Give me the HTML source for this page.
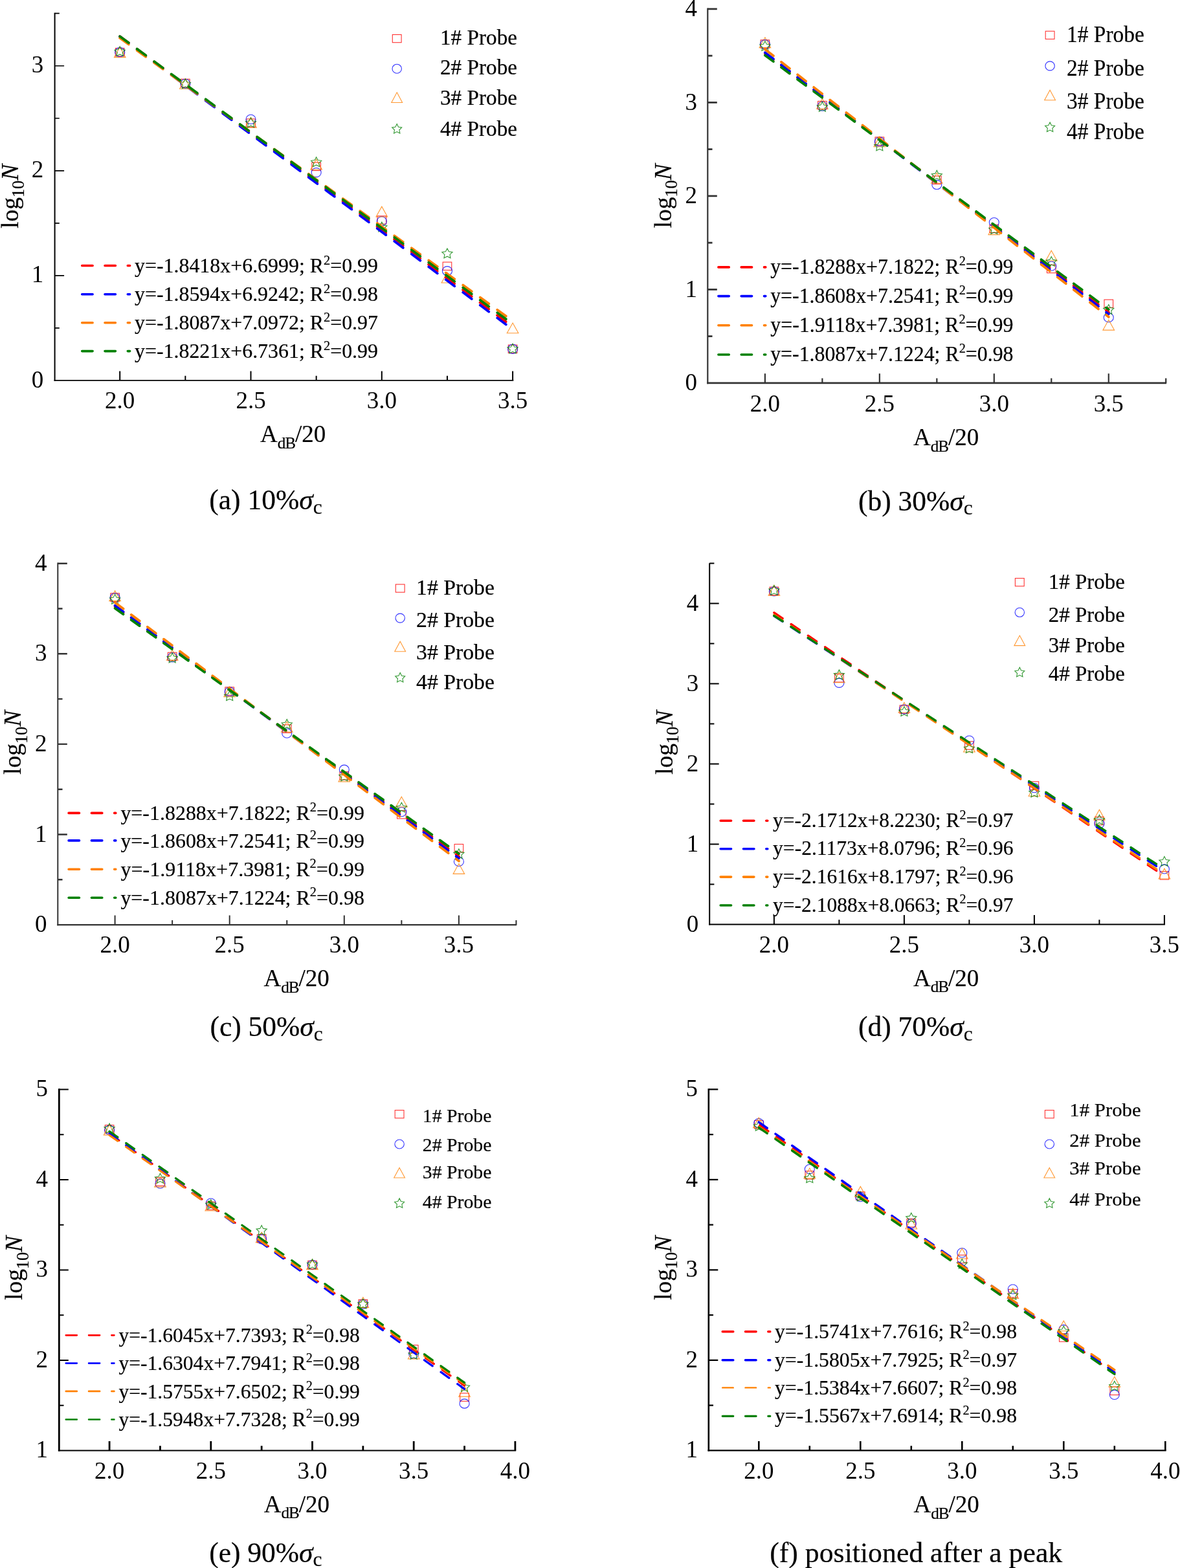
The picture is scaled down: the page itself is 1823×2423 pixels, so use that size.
<!DOCTYPE html>
<html lang="en"><head><meta charset="utf-8"><title>Amplitude distribution fits</title>
<style>html,body{margin:0;padding:0;background:#fff}body{width:1823px;height:2423px;overflow:hidden}svg{display:block}text{font-family:'Liberation Serif',serif;fill:#000;stroke:#000;stroke-width:0.2px}.t text{stroke:none}</style></head><body>
<svg width="1823" height="2423" viewBox="0 0 1823 2423">
<rect width="1823" height="2423" fill="#fff"/>
<g id="panel-a">
<g fill="none" stroke-width="1.1" stroke-opacity="0.8">
<rect x="178.4" y="74.48" width="13.6" height="12.4" stroke="#ff0000"/>
<rect x="279.55" y="122.29" width="13.6" height="12.4" stroke="#ff0000"/>
<rect x="380.7" y="183.87" width="13.6" height="12.4" stroke="#ff0000"/>
<rect x="481.85" y="251.12" width="13.6" height="12.4" stroke="#ff0000"/>
<rect x="583" y="333.76" width="13.6" height="12.4" stroke="#ff0000"/>
<rect x="684.15" y="405.07" width="13.6" height="12.4" stroke="#ff0000"/>
<rect x="785.3" y="533.08" width="13.6" height="12.4" stroke="#ff0000"/>
<ellipse cx="185.2" cy="80.68" rx="7.5" ry="7.1" stroke="#0000ff"/>
<ellipse cx="286.35" cy="129.3" rx="7.5" ry="7.1" stroke="#0000ff"/>
<ellipse cx="387.5" cy="184.4" rx="7.5" ry="7.1" stroke="#0000ff"/>
<ellipse cx="488.65" cy="266.55" rx="7.5" ry="7.1" stroke="#0000ff"/>
<ellipse cx="589.8" cy="341.91" rx="7.5" ry="7.1" stroke="#0000ff"/>
<ellipse cx="690.95" cy="418.72" rx="7.5" ry="7.1" stroke="#0000ff"/>
<ellipse cx="792.1" cy="539.28" rx="7.5" ry="7.1" stroke="#0000ff"/>
<path d="M185.2,72.82 L194,88.62 H176.4 Z" stroke="#ff8000"/>
<path d="M286.35,121.44 L295.15,137.24 H277.55 Z" stroke="#ff8000"/>
<path d="M387.5,181.4 L396.3,197.2 H378.7 Z" stroke="#ff8000"/>
<path d="M488.65,246.22 L497.45,262.02 H479.85 Z" stroke="#ff8000"/>
<path d="M589.8,319.14 L598.6,334.94 H581 Z" stroke="#ff8000"/>
<path d="M690.95,421.23 L699.75,437.03 H682.15 Z" stroke="#ff8000"/>
<path d="M792.1,499.02 L800.9,514.82 H783.3 Z" stroke="#ff8000"/>
<path d="M185.2,71.67 L187.7,76.56 L193.28,77.34 L189.24,81.14 L190.2,86.51 L185.2,83.97 L180.2,86.51 L181.16,81.14 L177.12,77.34 L182.7,76.56 Z" stroke="#008000"/>
<path d="M286.35,121.91 L288.85,126.79 L294.43,127.57 L290.39,131.38 L291.35,136.74 L286.35,134.21 L281.35,136.74 L282.31,131.38 L278.27,127.57 L283.85,126.79 Z" stroke="#008000"/>
<path d="M387.5,181.87 L390,186.75 L395.58,187.53 L391.54,191.33 L392.5,196.7 L387.5,194.17 L382.5,196.7 L383.46,191.33 L379.42,187.53 L385,186.75 Z" stroke="#008000"/>
<path d="M488.65,242.64 L491.15,247.52 L496.73,248.3 L492.69,252.1 L493.65,257.47 L488.65,254.94 L483.65,257.47 L484.61,252.1 L480.57,248.3 L486.15,247.52 Z" stroke="#008000"/>
<path d="M589.8,343.11 L592.3,347.99 L597.88,348.77 L593.84,352.57 L594.8,357.94 L589.8,355.41 L584.8,357.94 L585.76,352.57 L581.72,348.77 L587.3,347.99 Z" stroke="#008000"/>
<path d="M690.95,383.94 L693.45,388.83 L699.03,389.61 L694.99,393.41 L695.95,398.78 L690.95,396.24 L685.95,398.78 L686.91,393.41 L682.87,389.61 L688.45,388.83 Z" stroke="#008000"/>
<path d="M792.1,531.08 L794.6,535.97 L800.18,536.75 L796.14,540.55 L797.1,545.92 L792.1,543.38 L787.1,545.92 L788.06,540.55 L784.02,536.75 L789.6,535.97 Z" stroke="#008000"/>
</g>
<g fill="none" stroke-width="3.8" stroke-linecap="round">
<line x1="185.2" y1="56.21" x2="792.1" y2="504.93" stroke="#ff0000" stroke-dasharray="16.84 16.11"/>
<line x1="185.2" y1="56.54" x2="792.1" y2="509.14" stroke="#0000ff" stroke-dasharray="16.91 16.15"/>
<line x1="185.2" y1="58.81" x2="792.1" y2="495.86" stroke="#ff8000" stroke-dasharray="16.66 16"/>
<line x1="185.2" y1="56.21" x2="792.1" y2="500.7" stroke="#008000" stroke-dasharray="16.78 16.07"/>
</g>
<path d="M84.6,19.75 V588.75" fill="none" stroke="#000" stroke-width="2.0"/>
<path d="M83.6,587.9 H793.3" fill="none" stroke="#000" stroke-width="1.7"/>
<path d="M185.2,587.9 v-14.5 M387.5,587.9 v-14.5 M589.8,587.9 v-14.5 M792.1,587.9 v-14.5 M286.35,587.9 v-7.2 M488.65,587.9 v-7.2 M690.95,587.9 v-7.2" fill="none" stroke="#000" stroke-width="2.0"/>
<path d="M84.6,425.85 h14.5 M84.6,263.8 h14.5 M84.6,101.75 h14.5 M84.6,506.88 h7.2 M84.6,344.82 h7.2 M84.6,182.77 h7.2 M84.6,20.72 h7.2" fill="none" stroke="#000" stroke-width="1.7"/>
<g class="t">
<text x="185.2" y="631.2" font-size="37" text-anchor="middle">2.0</text>
<text x="387.5" y="631.2" font-size="37" text-anchor="middle">2.5</text>
<text x="589.8" y="631.2" font-size="37" text-anchor="middle">3.0</text>
<text x="792.1" y="631.2" font-size="37" text-anchor="middle">3.5</text>
<text x="67.2" y="598.5" font-size="37" text-anchor="end">0</text>
<text x="67.2" y="436.45" font-size="37" text-anchor="end">1</text>
<text x="67.2" y="274.4" font-size="37" text-anchor="end">2</text>
<text x="67.2" y="112.35" font-size="37" text-anchor="end">3</text>
</g>
<text x="402" y="683" font-size="37">A<tspan font-size="25.16" dy="9.8" dx="0" letter-spacing="-1">dB</tspan><tspan dy="-9.8" dx="0">/20</tspan></text>
<text transform="translate(27.6 353) rotate(-90)" font-size="37.5">log<tspan font-size="26.25" dy="9.75">10</tspan><tspan dy="-9.75" font-style="italic">N</tspan></text>
<g fill="none" stroke-width="1.1" stroke-opacity="0.8">
<rect x="606.3" y="53.5" width="13.8" height="12.2" stroke="#ff0000"/>
<ellipse cx="613.2" cy="106.2" rx="7.2" ry="7" stroke="#0000ff"/>
<path d="M613.2,142.84 L621.6,158.44 H604.8 Z" stroke="#ff8000"/>
<path d="M613.2,191.4 L615.52,196.22 L620.71,197 L616.96,200.75 L617.84,206.05 L613.2,203.55 L608.56,206.05 L609.44,200.75 L605.69,197 L610.88,196.22 Z" stroke="#008000"/>
</g>
<text x="680" y="69.2" font-size="33" textLength="119" lengthAdjust="spacingAndGlyphs">1# Probe</text>
<text x="680" y="115.1" font-size="33" textLength="119" lengthAdjust="spacingAndGlyphs">2# Probe</text>
<text x="680" y="162" font-size="33" textLength="119" lengthAdjust="spacingAndGlyphs">3# Probe</text>
<text x="680" y="210.3" font-size="33" textLength="119" lengthAdjust="spacingAndGlyphs">4# Probe</text>
<g fill="none" stroke-width="3.6" stroke-dasharray="16.4 18.9" stroke-linecap="round">
<line x1="126.7" y1="410.5" x2="200.6" y2="410.5" stroke="#ff0000"/>
<line x1="126.7" y1="454.7" x2="200.6" y2="454.7" stroke="#0000ff"/>
<line x1="126.7" y1="498.7" x2="200.6" y2="498.7" stroke="#ff8000"/>
<line x1="126.7" y1="542.6" x2="200.6" y2="542.6" stroke="#008000"/>
</g>
<text x="208" y="421" font-size="32" textLength="376" lengthAdjust="spacingAndGlyphs">y=-1.8418x+6.6999; R<tspan font-size="20.48" dy="-12.48">2</tspan><tspan dy="12.48">=0.99</tspan></text>
<text x="208" y="465" font-size="32" textLength="376" lengthAdjust="spacingAndGlyphs">y=-1.8594x+6.9242; R<tspan font-size="20.48" dy="-12.48">2</tspan><tspan dy="12.48">=0.98</tspan></text>
<text x="208" y="509" font-size="32" textLength="376" lengthAdjust="spacingAndGlyphs">y=-1.8087x+7.0972; R<tspan font-size="20.48" dy="-12.48">2</tspan><tspan dy="12.48">=0.97</tspan></text>
<text x="208" y="553" font-size="32" textLength="376" lengthAdjust="spacingAndGlyphs">y=-1.8221x+6.7361; R<tspan font-size="20.48" dy="-12.48">2</tspan><tspan dy="12.48">=0.99</tspan></text>
<text x="323.3" y="787.2" font-size="43.5">(a) 10%<tspan font-style="italic">σ</tspan><tspan font-size="31.32" dy="6.31">c</tspan></text>
</g>
<g id="panel-b">
<g fill="none" stroke-width="1.1" stroke-opacity="0.8">
<rect x="1175.1" y="61.79" width="13.6" height="12.4" stroke="#ff0000"/>
<rect x="1263.58" y="156.43" width="13.6" height="12.4" stroke="#ff0000"/>
<rect x="1352.05" y="211.92" width="13.6" height="12.4" stroke="#ff0000"/>
<rect x="1440.53" y="272.03" width="13.6" height="12.4" stroke="#ff0000"/>
<rect x="1529" y="347.18" width="13.6" height="12.4" stroke="#ff0000"/>
<rect x="1617.48" y="409.31" width="13.6" height="12.4" stroke="#ff0000"/>
<rect x="1705.95" y="463.06" width="13.6" height="12.4" stroke="#ff0000"/>
<ellipse cx="1181.9" cy="68.71" rx="7.5" ry="7.1" stroke="#0000ff"/>
<ellipse cx="1270.38" cy="164.08" rx="7.5" ry="7.1" stroke="#0000ff"/>
<ellipse cx="1358.85" cy="218.99" rx="7.5" ry="7.1" stroke="#0000ff"/>
<ellipse cx="1447.33" cy="285.46" rx="7.5" ry="7.1" stroke="#0000ff"/>
<ellipse cx="1535.8" cy="343.55" rx="7.5" ry="7.1" stroke="#0000ff"/>
<ellipse cx="1624.28" cy="411.17" rx="7.5" ry="7.1" stroke="#0000ff"/>
<ellipse cx="1712.75" cy="490.65" rx="7.5" ry="7.1" stroke="#0000ff"/>
<path d="M1181.9,57.78 L1190.7,73.58 H1173.1 Z" stroke="#ff8000"/>
<path d="M1270.38,152.43 L1279.17,168.23 H1261.58 Z" stroke="#ff8000"/>
<path d="M1358.85,210.96 L1367.65,226.75 H1350.05 Z" stroke="#ff8000"/>
<path d="M1447.33,267.31 L1456.12,283.11 H1438.53 Z" stroke="#ff8000"/>
<path d="M1535.8,346.78 L1544.6,362.58 H1527 Z" stroke="#ff8000"/>
<path d="M1624.28,387.24 L1633.08,403.04 H1615.48 Z" stroke="#ff8000"/>
<path d="M1712.75,494.32 L1721.55,510.12 H1703.95 Z" stroke="#ff8000"/>
<path d="M1181.9,63.4 L1184.4,68.28 L1189.98,69.07 L1185.94,72.87 L1186.9,78.23 L1181.9,75.7 L1176.9,78.23 L1177.86,72.87 L1173.82,69.07 L1179.4,68.28 Z" stroke="#008000"/>
<path d="M1270.38,157.32 L1272.87,162.21 L1278.46,162.99 L1274.42,166.79 L1275.37,172.16 L1270.38,169.62 L1265.38,172.16 L1266.33,166.79 L1262.29,162.99 L1267.88,162.21 Z" stroke="#008000"/>
<path d="M1358.85,218.01 L1361.35,222.9 L1366.93,223.68 L1362.89,227.48 L1363.85,232.85 L1358.85,230.31 L1353.85,232.85 L1354.81,227.48 L1350.77,223.68 L1356.35,222.9 Z" stroke="#008000"/>
<path d="M1447.33,263.24 L1449.82,268.13 L1455.41,268.91 L1451.37,272.71 L1452.32,278.08 L1447.33,275.54 L1442.33,278.08 L1443.28,272.71 L1439.24,268.91 L1444.83,268.13 Z" stroke="#008000"/>
<path d="M1535.8,346.62 L1538.3,351.5 L1543.88,352.29 L1539.84,356.09 L1540.8,361.45 L1535.8,358.92 L1530.8,361.45 L1531.76,356.09 L1527.72,352.29 L1533.3,351.5 Z" stroke="#008000"/>
<path d="M1624.28,396.47 L1626.77,401.36 L1632.36,402.14 L1628.32,405.94 L1629.27,411.31 L1624.28,408.77 L1619.28,411.31 L1620.23,405.94 L1616.19,402.14 L1621.78,401.36 Z" stroke="#008000"/>
<path d="M1712.75,470.6 L1715.25,475.48 L1720.83,476.27 L1716.79,480.07 L1717.75,485.43 L1712.75,482.9 L1707.75,485.43 L1708.71,480.07 L1704.67,476.27 L1710.25,475.48 Z" stroke="#008000"/>
</g>
<g fill="none" stroke-width="3.8" stroke-linecap="round">
<line x1="1181.9" y1="82.44" x2="1712.75" y2="482.34" stroke="#ff0000" stroke-dasharray="16.23 15.19"/>
<line x1="1181.9" y1="81.14" x2="1712.75" y2="485.29" stroke="#0000ff" stroke-dasharray="16.31 15.24"/>
<line x1="1181.9" y1="76.22" x2="1712.75" y2="489.74" stroke="#ff8000" stroke-dasharray="16.48 15.34"/>
<line x1="1181.9" y1="85.47" x2="1712.75" y2="478.2" stroke="#008000" stroke-dasharray="16.1 15.12"/>
</g>
<path d="M1093.3,12.6 V593.2" fill="none" stroke="#333" stroke-width="2.2"/>
<path d="M1092.2,591.8 H1802.1" fill="none" stroke="#333" stroke-width="2.8"/>
<path d="M1181.9,591.8 v-14.5 M1358.85,591.8 v-14.5 M1535.8,591.8 v-14.5 M1712.75,591.8 v-14.5 M1270.38,591.8 v-7.2 M1447.33,591.8 v-7.2 M1624.28,591.8 v-7.2 M1801.22,591.8 v-7.2" fill="none" stroke="#333" stroke-width="2.2"/>
<path d="M1093.3,447.3 h14.5 M1093.3,302.8 h14.5 M1093.3,158.3 h14.5 M1093.3,13.8 h14.5 M1093.3,519.55 h7.2 M1093.3,375.05 h7.2 M1093.3,230.55 h7.2 M1093.3,86.05 h7.2" fill="none" stroke="#333" stroke-width="2.8"/>
<g class="t">
<text transform="translate(1181.9 636.3) scale(1 1.03)" font-size="37" text-anchor="middle">2.0</text>
<text transform="translate(1358.85 636.3) scale(1 1.03)" font-size="37" text-anchor="middle">2.5</text>
<text transform="translate(1535.8 636.3) scale(1 1.03)" font-size="37" text-anchor="middle">3.0</text>
<text transform="translate(1712.75 636.3) scale(1 1.03)" font-size="37" text-anchor="middle">3.5</text>
<text transform="translate(1077 603.2) scale(1 1.03)" font-size="37" text-anchor="end">0</text>
<text transform="translate(1077 458.7) scale(1 1.03)" font-size="37" text-anchor="end">1</text>
<text transform="translate(1077 314.2) scale(1 1.03)" font-size="37" text-anchor="end">2</text>
<text transform="translate(1077 169.7) scale(1 1.03)" font-size="37" text-anchor="end">3</text>
<text transform="translate(1077 25.2) scale(1 1.03)" font-size="37" text-anchor="end">4</text>
</g>
<text x="1411" y="688.4" font-size="37">A<tspan font-size="25.16" dy="9.8" dx="0" letter-spacing="-1">dB</tspan><tspan dy="-9.8" dx="0">/20</tspan></text>
<text transform="translate(1036.7 352.5) rotate(-90)" font-size="37.5">log<tspan font-size="26.25" dy="9.75">10</tspan><tspan dy="-9.75" font-style="italic">N</tspan></text>
<g fill="none" stroke-width="1.1" stroke-opacity="0.8">
<rect x="1615.2" y="48.2" width="13.8" height="12.2" stroke="#ff0000"/>
<ellipse cx="1622.1" cy="101.9" rx="7.2" ry="7" stroke="#0000ff"/>
<path d="M1622.1,139.14 L1630.5,154.74 H1613.7 Z" stroke="#ff8000"/>
<path d="M1622.1,188.9 L1624.42,193.72 L1629.61,194.5 L1625.86,198.25 L1626.74,203.55 L1622.1,201.05 L1617.46,203.55 L1618.34,198.25 L1614.59,194.5 L1619.78,193.72 Z" stroke="#008000"/>
</g>
<text x="1648" y="64.7" font-size="35" textLength="119.8" lengthAdjust="spacingAndGlyphs">1# Probe</text>
<text x="1648" y="117.4" font-size="35" textLength="119.8" lengthAdjust="spacingAndGlyphs">2# Probe</text>
<text x="1648" y="167.8" font-size="35" textLength="119.8" lengthAdjust="spacingAndGlyphs">3# Probe</text>
<text x="1648" y="215.4" font-size="35" textLength="119.8" lengthAdjust="spacingAndGlyphs">4# Probe</text>
<g fill="none" stroke-width="3.6" stroke-dasharray="16.4 18.9" stroke-linecap="round">
<line x1="1109.9" y1="412.9" x2="1182.8" y2="412.9" stroke="#ff0000"/>
<line x1="1109.9" y1="457.6" x2="1182.8" y2="457.6" stroke="#0000ff"/>
<line x1="1109.9" y1="502.8" x2="1182.8" y2="502.8" stroke="#ff8000"/>
<line x1="1109.9" y1="548" x2="1182.8" y2="548" stroke="#008000"/>
</g>
<text x="1190.2" y="423.3" font-size="33" textLength="375.3" lengthAdjust="spacingAndGlyphs">y=-1.8288x+7.1822; R<tspan font-size="21.12" dy="-12.87">2</tspan><tspan dy="12.87">=0.99</tspan></text>
<text x="1190.2" y="468" font-size="33" textLength="375.3" lengthAdjust="spacingAndGlyphs">y=-1.8608x+7.2541; R<tspan font-size="21.12" dy="-12.87">2</tspan><tspan dy="12.87">=0.99</tspan></text>
<text x="1190.2" y="512.9" font-size="33" textLength="375.3" lengthAdjust="spacingAndGlyphs">y=-1.9118x+7.3981; R<tspan font-size="21.12" dy="-12.87">2</tspan><tspan dy="12.87">=0.99</tspan></text>
<text x="1190.2" y="558.1" font-size="33" textLength="375.3" lengthAdjust="spacingAndGlyphs">y=-1.8087x+7.1224; R<tspan font-size="21.12" dy="-12.87">2</tspan><tspan dy="12.87">=0.98</tspan></text>
<text x="1326" y="788.6" font-size="43.5">(b) 30%<tspan font-style="italic">σ</tspan><tspan font-size="31.32" dy="6.31">c</tspan></text>
</g>
<g id="panel-c">
<g fill="none" stroke-width="1.1" stroke-opacity="0.8">
<rect x="170.8" y="916.85" width="13.6" height="12.4" stroke="#ff0000"/>
<rect x="259.35" y="1008.29" width="13.6" height="12.4" stroke="#ff0000"/>
<rect x="347.9" y="1061.89" width="13.6" height="12.4" stroke="#ff0000"/>
<rect x="436.45" y="1119.97" width="13.6" height="12.4" stroke="#ff0000"/>
<rect x="525" y="1192.56" width="13.6" height="12.4" stroke="#ff0000"/>
<rect x="613.55" y="1252.59" width="13.6" height="12.4" stroke="#ff0000"/>
<rect x="702.1" y="1304.52" width="13.6" height="12.4" stroke="#ff0000"/>
<ellipse cx="177.6" cy="923.75" rx="7.5" ry="7.1" stroke="#0000ff"/>
<ellipse cx="266.15" cy="1015.88" rx="7.5" ry="7.1" stroke="#0000ff"/>
<ellipse cx="354.7" cy="1068.93" rx="7.5" ry="7.1" stroke="#0000ff"/>
<ellipse cx="443.25" cy="1133.15" rx="7.5" ry="7.1" stroke="#0000ff"/>
<ellipse cx="531.8" cy="1189.27" rx="7.5" ry="7.1" stroke="#0000ff"/>
<ellipse cx="620.35" cy="1254.6" rx="7.5" ry="7.1" stroke="#0000ff"/>
<ellipse cx="708.9" cy="1331.38" rx="7.5" ry="7.1" stroke="#0000ff"/>
<path d="M177.6,912.87 L186.4,928.67 H168.8 Z" stroke="#ff8000"/>
<path d="M266.15,1004.31 L274.95,1020.11 H257.35 Z" stroke="#ff8000"/>
<path d="M354.7,1060.85 L363.5,1076.65 H345.9 Z" stroke="#ff8000"/>
<path d="M443.25,1115.29 L452.05,1131.09 H434.45 Z" stroke="#ff8000"/>
<path d="M531.8,1192.07 L540.6,1207.87 H523 Z" stroke="#ff8000"/>
<path d="M620.35,1231.16 L629.15,1246.96 H611.55 Z" stroke="#ff8000"/>
<path d="M708.9,1334.6 L717.7,1350.4 H700.1 Z" stroke="#ff8000"/>
<path d="M177.6,918.34 L180.1,923.22 L185.68,924.01 L181.64,927.81 L182.6,933.17 L177.6,930.64 L172.6,933.17 L173.56,927.81 L169.52,924.01 L175.1,923.22 Z" stroke="#008000"/>
<path d="M266.15,1009.08 L268.65,1013.96 L274.23,1014.75 L270.19,1018.55 L271.15,1023.91 L266.15,1021.38 L261.15,1023.91 L262.11,1018.55 L258.07,1014.75 L263.65,1013.96 Z" stroke="#008000"/>
<path d="M354.7,1067.71 L357.2,1072.6 L362.78,1073.38 L358.74,1077.18 L359.7,1082.55 L354.7,1080.01 L349.7,1082.55 L350.66,1077.18 L346.62,1073.38 L352.2,1072.6 Z" stroke="#008000"/>
<path d="M443.25,1111.41 L445.75,1116.29 L451.33,1117.07 L447.29,1120.87 L448.25,1126.24 L443.25,1123.71 L438.25,1126.24 L439.21,1120.87 L435.17,1117.07 L440.75,1116.29 Z" stroke="#008000"/>
<path d="M531.8,1191.96 L534.3,1196.84 L539.88,1197.62 L535.84,1201.42 L536.8,1206.79 L531.8,1204.26 L526.8,1206.79 L527.76,1201.42 L523.72,1197.62 L529.3,1196.84 Z" stroke="#008000"/>
<path d="M620.35,1240.12 L622.85,1245 L628.43,1245.78 L624.39,1249.58 L625.35,1254.95 L620.35,1252.42 L615.35,1254.95 L616.31,1249.58 L612.27,1245.78 L617.85,1245 Z" stroke="#008000"/>
<path d="M708.9,1311.73 L711.4,1316.62 L716.98,1317.4 L712.94,1321.2 L713.9,1326.57 L708.9,1324.03 L703.9,1326.57 L704.86,1321.2 L700.82,1317.4 L706.4,1316.62 Z" stroke="#008000"/>
</g>
<g fill="none" stroke-width="3.8" stroke-linecap="round">
<line x1="177.6" y1="937.01" x2="708.9" y2="1323.35" stroke="#ff0000" stroke-dasharray="15.98 15.05"/>
<line x1="177.6" y1="935.75" x2="708.9" y2="1326.2" stroke="#0000ff" stroke-dasharray="16.06 15.09"/>
<line x1="177.6" y1="931.01" x2="708.9" y2="1330.5" stroke="#ff8000" stroke-dasharray="16.22 15.19"/>
<line x1="177.6" y1="939.94" x2="708.9" y2="1319.35" stroke="#008000" stroke-dasharray="15.86 14.98"/>
</g>
<path d="M89.3,869.5 V1430.3" fill="none" stroke="#333" stroke-width="2.0"/>
<path d="M88.3,1429.1 H798.2" fill="none" stroke="#333" stroke-width="2.4"/>
<path d="M177.6,1429.1 v-14.5 M354.7,1429.1 v-14.5 M531.8,1429.1 v-14.5 M708.9,1429.1 v-14.5 M266.15,1429.1 v-7.2 M443.25,1429.1 v-7.2 M620.35,1429.1 v-7.2 M797.45,1429.1 v-7.2" fill="none" stroke="#333" stroke-width="2.0"/>
<path d="M89.3,1289.5 h14.5 M89.3,1149.9 h14.5 M89.3,1010.3 h14.5 M89.3,870.7 h14.5 M89.3,1359.3 h7.2 M89.3,1219.7 h7.2 M89.3,1080.1 h7.2 M89.3,940.5 h7.2" fill="none" stroke="#333" stroke-width="2.4"/>
<g class="t">
<text x="177.6" y="1472.3" font-size="37" text-anchor="middle">2.0</text>
<text x="354.7" y="1472.3" font-size="37" text-anchor="middle">2.5</text>
<text x="531.8" y="1472.3" font-size="37" text-anchor="middle">3.0</text>
<text x="708.9" y="1472.3" font-size="37" text-anchor="middle">3.5</text>
<text x="72.5" y="1440.1" font-size="37" text-anchor="end">0</text>
<text x="72.5" y="1300.5" font-size="37" text-anchor="end">1</text>
<text x="72.5" y="1160.9" font-size="37" text-anchor="end">2</text>
<text x="72.5" y="1021.3" font-size="37" text-anchor="end">3</text>
<text x="72.5" y="881.7" font-size="37" text-anchor="end">4</text>
</g>
<text x="407.5" y="1523.7" font-size="37">A<tspan font-size="25.16" dy="9.8" dx="0" letter-spacing="-1">dB</tspan><tspan dy="-9.8" dx="0">/20</tspan></text>
<text transform="translate(32.3 1197) rotate(-90)" font-size="37.5">log<tspan font-size="26.25" dy="9.75">10</tspan><tspan dy="-9.75" font-style="italic">N</tspan></text>
<g fill="none" stroke-width="1.1" stroke-opacity="0.8">
<rect x="611.3" y="903" width="13.8" height="12.2" stroke="#ff0000"/>
<ellipse cx="618.2" cy="955.1" rx="7.2" ry="7" stroke="#0000ff"/>
<path d="M618.2,991.14 L626.6,1006.74 H609.8 Z" stroke="#ff8000"/>
<path d="M618.2,1039.4 L620.52,1044.22 L625.71,1045 L621.96,1048.75 L622.84,1054.05 L618.2,1051.55 L613.56,1054.05 L614.44,1048.75 L610.69,1045 L615.88,1044.22 Z" stroke="#008000"/>
</g>
<text x="643" y="918.9" font-size="34" textLength="121" lengthAdjust="spacingAndGlyphs">1# Probe</text>
<text x="643" y="969.4" font-size="34" textLength="121" lengthAdjust="spacingAndGlyphs">2# Probe</text>
<text x="643" y="1018.7" font-size="34" textLength="121" lengthAdjust="spacingAndGlyphs">3# Probe</text>
<text x="643" y="1064.7" font-size="34" textLength="121" lengthAdjust="spacingAndGlyphs">4# Probe</text>
<g fill="none" stroke-width="3.6" stroke-dasharray="16.4 18.9" stroke-linecap="round">
<line x1="106.1" y1="1256.4" x2="178.8" y2="1256.4" stroke="#ff0000"/>
<line x1="106.1" y1="1298.9" x2="178.8" y2="1298.9" stroke="#0000ff"/>
<line x1="106.1" y1="1343.3" x2="178.8" y2="1343.3" stroke="#ff8000"/>
<line x1="106.1" y1="1387.2" x2="178.8" y2="1387.2" stroke="#008000"/>
</g>
<text x="186.4" y="1266.6" font-size="32" textLength="376.5" lengthAdjust="spacingAndGlyphs">y=-1.8288x+7.1822; R<tspan font-size="20.48" dy="-12.48">2</tspan><tspan dy="12.48">=0.99</tspan></text>
<text x="186.4" y="1309.9" font-size="32" textLength="376.5" lengthAdjust="spacingAndGlyphs">y=-1.8608x+7.2541; R<tspan font-size="20.48" dy="-12.48">2</tspan><tspan dy="12.48">=0.99</tspan></text>
<text x="186.4" y="1353.7" font-size="32" textLength="376.5" lengthAdjust="spacingAndGlyphs">y=-1.9118x+7.3981; R<tspan font-size="20.48" dy="-12.48">2</tspan><tspan dy="12.48">=0.99</tspan></text>
<text x="186.4" y="1397.6" font-size="32" textLength="376.5" lengthAdjust="spacingAndGlyphs">y=-1.8087x+7.1224; R<tspan font-size="20.48" dy="-12.48">2</tspan><tspan dy="12.48">=0.98</tspan></text>
<text x="324.4" y="1601.2" font-size="43.5">(c) 50%<tspan font-style="italic">σ</tspan><tspan font-size="31.32" dy="6.31">c</tspan></text>
</g>
<g id="panel-d">
<g fill="none" stroke-width="1.1" stroke-opacity="0.8">
<rect x="1189.1" y="907.2" width="13.6" height="12.4" stroke="#ff0000"/>
<rect x="1289.6" y="1041.62" width="13.6" height="12.4" stroke="#ff0000"/>
<rect x="1390.1" y="1089.98" width="13.6" height="12.4" stroke="#ff0000"/>
<rect x="1490.6" y="1145.78" width="13.6" height="12.4" stroke="#ff0000"/>
<rect x="1591.1" y="1207.78" width="13.6" height="12.4" stroke="#ff0000"/>
<rect x="1691.6" y="1262.34" width="13.6" height="12.4" stroke="#ff0000"/>
<rect x="1792.1" y="1346.66" width="13.6" height="12.4" stroke="#ff0000"/>
<ellipse cx="1195.9" cy="913.9" rx="7.5" ry="7.1" stroke="#0000ff"/>
<ellipse cx="1296.4" cy="1055.26" rx="7.5" ry="7.1" stroke="#0000ff"/>
<ellipse cx="1396.9" cy="1096.18" rx="7.5" ry="7.1" stroke="#0000ff"/>
<ellipse cx="1497.4" cy="1144.17" rx="7.5" ry="7.1" stroke="#0000ff"/>
<ellipse cx="1597.9" cy="1217.7" rx="7.5" ry="7.1" stroke="#0000ff"/>
<ellipse cx="1698.4" cy="1272.88" rx="7.5" ry="7.1" stroke="#0000ff"/>
<ellipse cx="1798.9" cy="1342.94" rx="7.5" ry="7.1" stroke="#0000ff"/>
<path d="M1195.9,904.42 L1204.7,920.22 H1187.1 Z" stroke="#ff8000"/>
<path d="M1296.4,1038.96 L1305.2,1054.76 H1287.6 Z" stroke="#ff8000"/>
<path d="M1396.9,1085.46 L1405.7,1101.26 H1388.1 Z" stroke="#ff8000"/>
<path d="M1497.4,1146.22 L1506.2,1162.02 H1488.6 Z" stroke="#ff8000"/>
<path d="M1597.9,1214.42 L1606.7,1230.22 H1589.1 Z" stroke="#ff8000"/>
<path d="M1698.4,1251.12 L1707.2,1266.92 H1689.6 Z" stroke="#ff8000"/>
<path d="M1798.9,1342.14 L1807.7,1357.94 H1790.1 Z" stroke="#ff8000"/>
<path d="M1195.9,904.46 L1198.4,909.34 L1203.98,910.13 L1199.94,913.93 L1200.9,919.29 L1195.9,916.76 L1190.9,919.29 L1191.86,913.93 L1187.82,910.13 L1193.4,909.34 Z" stroke="#008000"/>
<path d="M1296.4,1035.03 L1298.9,1039.92 L1304.48,1040.7 L1300.44,1044.5 L1301.4,1049.87 L1296.4,1047.33 L1291.4,1049.87 L1292.36,1044.5 L1288.32,1040.7 L1293.9,1039.92 Z" stroke="#008000"/>
<path d="M1396.9,1091.7 L1399.4,1096.58 L1404.98,1097.37 L1400.94,1101.17 L1401.9,1106.53 L1396.9,1104 L1391.9,1106.53 L1392.86,1101.17 L1388.82,1097.37 L1394.4,1096.58 Z" stroke="#008000"/>
<path d="M1497.4,1148.74 L1499.9,1153.62 L1505.48,1154.41 L1501.44,1158.21 L1502.4,1163.57 L1497.4,1161.04 L1492.4,1163.57 L1493.36,1158.21 L1489.32,1154.41 L1494.9,1153.62 Z" stroke="#008000"/>
<path d="M1597.9,1216.94 L1600.4,1221.82 L1605.98,1222.61 L1601.94,1226.41 L1602.9,1231.77 L1597.9,1229.24 L1592.9,1231.77 L1593.86,1226.41 L1589.82,1222.61 L1595.4,1221.82 Z" stroke="#008000"/>
<path d="M1698.4,1259.1 L1700.9,1263.98 L1706.48,1264.77 L1702.44,1268.57 L1703.4,1273.93 L1698.4,1271.4 L1693.4,1273.93 L1694.36,1268.57 L1690.32,1264.77 L1695.9,1263.98 Z" stroke="#008000"/>
<path d="M1798.9,1323.58 L1801.4,1328.46 L1806.98,1329.25 L1802.94,1333.05 L1803.9,1338.41 L1798.9,1335.88 L1793.9,1338.41 L1794.86,1333.05 L1790.82,1329.25 L1796.4,1328.46 Z" stroke="#008000"/>
</g>
<g fill="none" stroke-width="3.4" stroke-linecap="round">
<line x1="1195.9" y1="946.76" x2="1798.9" y2="1353.73" stroke="#ff0000" stroke-dasharray="15.9 15.77"/>
<line x1="1195.9" y1="951.72" x2="1798.9" y2="1346.5" stroke="#0000ff" stroke-dasharray="15.72 15.65"/>
<line x1="1195.9" y1="950.23" x2="1798.9" y2="1351.25" stroke="#ff8000" stroke-dasharray="15.82 15.71"/>
<line x1="1195.9" y1="951.47" x2="1798.9" y2="1343.19" stroke="#008000" stroke-dasharray="15.68 15.62"/>
</g>
<path d="M1096.2,870.15 V1429.55" fill="none" stroke="#000" stroke-width="2.0"/>
<path d="M1095.2,1428.5 H1799.9" fill="none" stroke="#000" stroke-width="2.1"/>
<path d="M1195.9,1428.5 v-14.5 M1396.9,1428.5 v-14.5 M1597.9,1428.5 v-14.5 M1798.9,1428.5 v-14.5 M1296.4,1428.5 v-7.2 M1497.4,1428.5 v-7.2 M1698.4,1428.5 v-7.2" fill="none" stroke="#000" stroke-width="2.0"/>
<path d="M1096.2,1304.5 h14.5 M1096.2,1180.5 h14.5 M1096.2,1056.5 h14.5 M1096.2,932.5 h14.5 M1096.2,1366.5 h7.2 M1096.2,1242.5 h7.2 M1096.2,1118.5 h7.2 M1096.2,994.5 h7.2 M1096.2,870.5 h7.2" fill="none" stroke="#000" stroke-width="2.1"/>
<g class="t">
<text transform="translate(1195.9 1472.3) scale(1 1.03)" font-size="37" text-anchor="middle">2.0</text>
<text transform="translate(1396.9 1472.3) scale(1 1.03)" font-size="37" text-anchor="middle">2.5</text>
<text transform="translate(1597.9 1472.3) scale(1 1.03)" font-size="37" text-anchor="middle">3.0</text>
<text transform="translate(1798.9 1472.3) scale(1 1.03)" font-size="37" text-anchor="middle">3.5</text>
<text transform="translate(1079.3 1439.9) scale(1 1.03)" font-size="37" text-anchor="end">0</text>
<text transform="translate(1079.3 1315.9) scale(1 1.03)" font-size="37" text-anchor="end">1</text>
<text transform="translate(1079.3 1191.9) scale(1 1.03)" font-size="37" text-anchor="end">2</text>
<text transform="translate(1079.3 1067.9) scale(1 1.03)" font-size="37" text-anchor="end">3</text>
<text transform="translate(1079.3 943.9) scale(1 1.03)" font-size="37" text-anchor="end">4</text>
</g>
<text x="1411" y="1523.6" font-size="37">A<tspan font-size="25.16" dy="9.8" dx="0" letter-spacing="-1">dB</tspan><tspan dy="-9.8" dx="0">/20</tspan></text>
<text transform="translate(1038.6 1197) rotate(-90)" font-size="37.5">log<tspan font-size="26.25" dy="9.75">10</tspan><tspan dy="-9.75" font-style="italic">N</tspan></text>
<g fill="none" stroke-width="1.1" stroke-opacity="0.8">
<rect x="1568.4" y="893.6" width="13.8" height="12.2" stroke="#ff0000"/>
<ellipse cx="1575.3" cy="946.3" rx="7.2" ry="7" stroke="#0000ff"/>
<path d="M1575.3,982.04 L1583.7,997.64 H1566.9 Z" stroke="#ff8000"/>
<path d="M1575.3,1031.2 L1577.62,1036.02 L1582.81,1036.8 L1579.06,1040.55 L1579.94,1045.85 L1575.3,1043.35 L1570.66,1045.85 L1571.54,1040.55 L1567.79,1036.8 L1572.98,1036.02 Z" stroke="#008000"/>
</g>
<text x="1619.8" y="909.9" font-size="33" textLength="118" lengthAdjust="spacingAndGlyphs">1# Probe</text>
<text x="1619.8" y="960.6" font-size="33" textLength="118" lengthAdjust="spacingAndGlyphs">2# Probe</text>
<text x="1619.8" y="1007.7" font-size="33" textLength="118" lengthAdjust="spacingAndGlyphs">3# Probe</text>
<text x="1619.8" y="1052.4" font-size="33" textLength="118" lengthAdjust="spacingAndGlyphs">4# Probe</text>
<g fill="none" stroke-width="3.6" stroke-dasharray="16.4 18.9" stroke-linecap="round">
<line x1="1113.2" y1="1268.2" x2="1185.8" y2="1268.2" stroke="#ff0000"/>
<line x1="1113.2" y1="1311.8" x2="1185.8" y2="1311.8" stroke="#0000ff"/>
<line x1="1113.2" y1="1355.1" x2="1185.8" y2="1355.1" stroke="#ff8000"/>
<line x1="1113.2" y1="1399" x2="1185.8" y2="1399" stroke="#008000"/>
</g>
<text x="1194" y="1278.4" font-size="32" textLength="371.5" lengthAdjust="spacingAndGlyphs">y=-2.1712x+8.2230; R<tspan font-size="20.48" dy="-12.48">2</tspan><tspan dy="12.48">=0.97</tspan></text>
<text x="1194" y="1321.4" font-size="32" textLength="371.5" lengthAdjust="spacingAndGlyphs">y=-2.1173x+8.0796; R<tspan font-size="20.48" dy="-12.48">2</tspan><tspan dy="12.48">=0.96</tspan></text>
<text x="1194" y="1365.2" font-size="32" textLength="371.5" lengthAdjust="spacingAndGlyphs">y=-2.1616x+8.1797; R<tspan font-size="20.48" dy="-12.48">2</tspan><tspan dy="12.48">=0.96</tspan></text>
<text x="1194" y="1408.5" font-size="32" textLength="371.5" lengthAdjust="spacingAndGlyphs">y=-2.1088x+8.0663; R<tspan font-size="20.48" dy="-12.48">2</tspan><tspan dy="12.48">=0.97</tspan></text>
<text x="1326" y="1601.2" font-size="43.5">(d) 70%<tspan font-style="italic">σ</tspan><tspan font-size="31.32" dy="6.31">c</tspan></text>
</g>
<g id="panel-e">
<g fill="none" stroke-width="1.1" stroke-opacity="0.8">
<rect x="162.3" y="1738.58" width="13.6" height="12.4" stroke="#ff0000"/>
<rect x="240.65" y="1819.91" width="13.6" height="12.4" stroke="#ff0000"/>
<rect x="319" y="1857.15" width="13.6" height="12.4" stroke="#ff0000"/>
<rect x="397.35" y="1907.79" width="13.6" height="12.4" stroke="#ff0000"/>
<rect x="475.7" y="1948.39" width="13.6" height="12.4" stroke="#ff0000"/>
<rect x="554.05" y="2008.37" width="13.6" height="12.4" stroke="#ff0000"/>
<rect x="632.4" y="2078.54" width="13.6" height="12.4" stroke="#ff0000"/>
<rect x="710.75" y="2152.9" width="13.6" height="12.4" stroke="#ff0000"/>
<ellipse cx="169.1" cy="1746.18" rx="7.5" ry="7.1" stroke="#0000ff"/>
<ellipse cx="247.45" cy="1829.18" rx="7.5" ry="7.1" stroke="#0000ff"/>
<ellipse cx="325.8" cy="1859.17" rx="7.5" ry="7.1" stroke="#0000ff"/>
<ellipse cx="404.15" cy="1914.97" rx="7.5" ry="7.1" stroke="#0000ff"/>
<ellipse cx="482.5" cy="1954.59" rx="7.5" ry="7.1" stroke="#0000ff"/>
<ellipse cx="560.85" cy="2015.41" rx="7.5" ry="7.1" stroke="#0000ff"/>
<ellipse cx="639.2" cy="2092.14" rx="7.5" ry="7.1" stroke="#0000ff"/>
<ellipse cx="717.55" cy="2169" rx="7.5" ry="7.1" stroke="#0000ff"/>
<path d="M169.1,1738.09 L177.9,1753.89 H160.3 Z" stroke="#ff8000"/>
<path d="M247.45,1818.3 L256.25,1834.1 H238.65 Z" stroke="#ff8000"/>
<path d="M325.8,1855.27 L334.6,1871.07 H317 Z" stroke="#ff8000"/>
<path d="M404.15,1904.1 L412.95,1919.89 H395.35 Z" stroke="#ff8000"/>
<path d="M482.5,1945.95 L491.3,1961.75 H473.7 Z" stroke="#ff8000"/>
<path d="M560.85,2004.54 L569.65,2020.34 H552.05 Z" stroke="#ff8000"/>
<path d="M639.2,2084.05 L648,2099.85 H630.4 Z" stroke="#ff8000"/>
<path d="M717.55,2142.36 L726.35,2158.16 H708.75 Z" stroke="#ff8000"/>
<path d="M169.1,1735.88 L171.6,1740.77 L177.18,1741.55 L173.14,1745.35 L174.1,1750.72 L169.1,1748.18 L164.1,1750.72 L165.06,1745.35 L161.02,1741.55 L166.6,1740.77 Z" stroke="#008000"/>
<path d="M247.45,1813.31 L249.95,1818.19 L255.53,1818.97 L251.49,1822.77 L252.45,1828.14 L247.45,1825.61 L242.45,1828.14 L243.41,1822.77 L239.37,1818.97 L244.95,1818.19 Z" stroke="#008000"/>
<path d="M325.8,1853.76 L328.3,1858.64 L333.88,1859.43 L329.84,1863.23 L330.8,1868.59 L325.8,1866.06 L320.8,1868.59 L321.76,1863.23 L317.72,1859.43 L323.3,1858.64 Z" stroke="#008000"/>
<path d="M404.15,1893.52 L406.65,1898.4 L412.23,1899.18 L408.19,1902.98 L409.15,1908.35 L404.15,1905.82 L399.15,1908.35 L400.11,1902.98 L396.07,1899.18 L401.65,1898.4 Z" stroke="#008000"/>
<path d="M482.5,1945.83 L485,1950.71 L490.58,1951.5 L486.54,1955.3 L487.5,1960.66 L482.5,1958.13 L477.5,1960.66 L478.46,1955.3 L474.42,1951.5 L480,1950.71 Z" stroke="#008000"/>
<path d="M560.85,2007.21 L563.35,2012.09 L568.93,2012.88 L564.89,2016.68 L565.85,2022.04 L560.85,2019.51 L555.85,2022.04 L556.81,2016.68 L552.77,2012.88 L558.35,2012.09 Z" stroke="#008000"/>
<path d="M639.2,2085.33 L641.7,2090.21 L647.28,2091 L643.24,2094.8 L644.2,2100.16 L639.2,2097.63 L634.2,2100.16 L635.16,2094.8 L631.12,2091 L636.7,2090.21 Z" stroke="#008000"/>
<path d="M717.55,2135.55 L720.05,2140.43 L725.63,2141.22 L721.59,2145.02 L722.55,2150.38 L717.55,2147.85 L712.55,2150.38 L713.51,2145.02 L709.47,2141.22 L715.05,2140.43 Z" stroke="#008000"/>
</g>
<g fill="none" stroke-width="3.2" stroke-linecap="round">
<line x1="169.1" y1="1751.76" x2="717.55" y2="2141.13" stroke="#ff0000" stroke-dasharray="15.69 15.71" stroke-dashoffset="-2.5"/>
<line x1="169.1" y1="1751.27" x2="717.55" y2="2146.41" stroke="#0000ff" stroke-dasharray="15.78 15.77"/>
<line x1="169.1" y1="1754.2" x2="717.55" y2="2138.67" stroke="#ff8000" stroke-dasharray="15.61 15.66"/>
<line x1="169.1" y1="1748.2" x2="717.55" y2="2136.6" stroke="#008000" stroke-dasharray="15.67 15.7"/>
</g>
<path d="M91.3,1682.3 V2242.4" fill="none" stroke="#000" stroke-width="2.8"/>
<path d="M89.9,2241.4 H797.2" fill="none" stroke="#000" stroke-width="2.0"/>
<path d="M169.1,2241.4 v-14.5 M325.8,2241.4 v-14.5 M482.5,2241.4 v-14.5 M639.2,2241.4 v-14.5 M795.9,2241.4 v-14.5 M247.45,2241.4 v-7.2 M404.15,2241.4 v-7.2 M560.85,2241.4 v-7.2 M717.55,2241.4 v-7.2" fill="none" stroke="#000" stroke-width="2.8"/>
<path d="M91.3,2101.9 h14.5 M91.3,1962.4 h14.5 M91.3,1822.9 h14.5 M91.3,1683.4 h14.5 M91.3,2171.65 h7.2 M91.3,2032.15 h7.2 M91.3,1892.65 h7.2 M91.3,1753.15 h7.2" fill="none" stroke="#000" stroke-width="2.0"/>
<g class="t">
<text transform="translate(169.1 2284.9) scale(1 1.05)" font-size="37" text-anchor="middle">2.0</text>
<text transform="translate(325.8 2284.9) scale(1 1.05)" font-size="37" text-anchor="middle">2.5</text>
<text transform="translate(482.5 2284.9) scale(1 1.05)" font-size="37" text-anchor="middle">3.0</text>
<text transform="translate(639.2 2284.9) scale(1 1.05)" font-size="37" text-anchor="middle">3.5</text>
<text transform="translate(795.9 2284.9) scale(1 1.05)" font-size="37" text-anchor="middle">4.0</text>
<text transform="translate(74 2252.4) scale(1 1.05)" font-size="37" text-anchor="end">1</text>
<text transform="translate(74 2112.9) scale(1 1.05)" font-size="37" text-anchor="end">2</text>
<text transform="translate(74 1973.4) scale(1 1.05)" font-size="37" text-anchor="end">3</text>
<text transform="translate(74 1833.9) scale(1 1.05)" font-size="37" text-anchor="end">4</text>
<text transform="translate(74 1694.4) scale(1 1.05)" font-size="37" text-anchor="end">5</text>
</g>
<text x="407.7" y="2336.6" font-size="37">A<tspan font-size="25.16" dy="9.8" dx="0" letter-spacing="-1">dB</tspan><tspan dy="-9.8" dx="0">/20</tspan></text>
<text transform="translate(34.3 2009) rotate(-90)" font-size="37.5">log<tspan font-size="26.25" dy="9.75">10</tspan><tspan dy="-9.75" font-style="italic">N</tspan></text>
<g fill="none" stroke-width="1.1" stroke-opacity="0.8">
<rect x="610.2" y="1715.6" width="13.8" height="12.2" stroke="#ff0000"/>
<ellipse cx="617.1" cy="1768" rx="7.2" ry="7" stroke="#0000ff"/>
<path d="M617.1,1804.44 L625.5,1820.04 H608.7 Z" stroke="#ff8000"/>
<path d="M617.1,1851.7 L619.42,1856.52 L624.61,1857.3 L620.86,1861.05 L621.74,1866.35 L617.1,1863.85 L612.46,1866.35 L613.34,1861.05 L609.59,1857.3 L614.78,1856.52 Z" stroke="#008000"/>
</g>
<text x="652.8" y="1734.3" font-size="30" textLength="106.6" lengthAdjust="spacingAndGlyphs">1# Probe</text>
<text x="652.8" y="1778.6" font-size="30" textLength="106.6" lengthAdjust="spacingAndGlyphs">2# Probe</text>
<text x="652.8" y="1821.1" font-size="30" textLength="106.6" lengthAdjust="spacingAndGlyphs">3# Probe</text>
<text x="652.8" y="1866.6" font-size="30" textLength="106.6" lengthAdjust="spacingAndGlyphs">4# Probe</text>
<g fill="none" stroke-width="2.7" stroke-dasharray="17.0 18.3" stroke-linecap="round">
<line x1="101.8" y1="2063.3" x2="176.4" y2="2063.3" stroke="#ff0000"/>
<line x1="101.8" y1="2106.6" x2="176.4" y2="2106.6" stroke="#0000ff"/>
<line x1="101.8" y1="2149.9" x2="176.4" y2="2149.9" stroke="#ff8000"/>
<line x1="101.8" y1="2193.5" x2="176.4" y2="2193.5" stroke="#008000"/>
</g>
<text x="183.4" y="2073.7" font-size="32" textLength="372.5" lengthAdjust="spacingAndGlyphs">y=-1.6045x+7.7393; R<tspan font-size="20.48" dy="-12.48">2</tspan><tspan dy="12.48">=0.98</tspan></text>
<text x="183.4" y="2117" font-size="32" textLength="372.5" lengthAdjust="spacingAndGlyphs">y=-1.6304x+7.7941; R<tspan font-size="20.48" dy="-12.48">2</tspan><tspan dy="12.48">=0.98</tspan></text>
<text x="183.4" y="2160.8" font-size="32" textLength="372.5" lengthAdjust="spacingAndGlyphs">y=-1.5755x+7.6502; R<tspan font-size="20.48" dy="-12.48">2</tspan><tspan dy="12.48">=0.99</tspan></text>
<text x="183.4" y="2203.9" font-size="32" textLength="372.5" lengthAdjust="spacingAndGlyphs">y=-1.5948x+7.7328; R<tspan font-size="20.48" dy="-12.48">2</tspan><tspan dy="12.48">=0.99</tspan></text>
<text x="323.2" y="2414" font-size="43.5">(e) 90%<tspan font-style="italic">σ</tspan><tspan font-size="31.32" dy="6.31">c</tspan></text>
</g>
<g id="panel-f">
<g fill="none" stroke-width="1.1" stroke-opacity="0.8">
<rect x="1165.5" y="1731.61" width="13.6" height="12.4" stroke="#ff0000"/>
<rect x="1244" y="1809.73" width="13.6" height="12.4" stroke="#ff0000"/>
<rect x="1322.5" y="1841.81" width="13.6" height="12.4" stroke="#ff0000"/>
<rect x="1401" y="1883.66" width="13.6" height="12.4" stroke="#ff0000"/>
<rect x="1479.5" y="1939.46" width="13.6" height="12.4" stroke="#ff0000"/>
<rect x="1558" y="1992.47" width="13.6" height="12.4" stroke="#ff0000"/>
<rect x="1636.5" y="2060.83" width="13.6" height="12.4" stroke="#ff0000"/>
<rect x="1715" y="2143.13" width="13.6" height="12.4" stroke="#ff0000"/>
<ellipse cx="1172.3" cy="1735.71" rx="7.5" ry="7.1" stroke="#0000ff"/>
<ellipse cx="1250.8" cy="1806.58" rx="7.5" ry="7.1" stroke="#0000ff"/>
<ellipse cx="1329.3" cy="1849.68" rx="7.5" ry="7.1" stroke="#0000ff"/>
<ellipse cx="1407.8" cy="1890.84" rx="7.5" ry="7.1" stroke="#0000ff"/>
<ellipse cx="1486.3" cy="1935.89" rx="7.5" ry="7.1" stroke="#0000ff"/>
<ellipse cx="1564.8" cy="1992.11" rx="7.5" ry="7.1" stroke="#0000ff"/>
<ellipse cx="1643.3" cy="2054.47" rx="7.5" ry="7.1" stroke="#0000ff"/>
<ellipse cx="1721.8" cy="2155.33" rx="7.5" ry="7.1" stroke="#0000ff"/>
<path d="M1172.3,1726.93 L1181.1,1742.73 H1163.5 Z" stroke="#ff8000"/>
<path d="M1250.8,1805.05 L1259.6,1820.85 H1242 Z" stroke="#ff8000"/>
<path d="M1329.3,1833.37 L1338.1,1849.17 H1320.5 Z" stroke="#ff8000"/>
<path d="M1407.8,1883.17 L1416.6,1898.97 H1399 Z" stroke="#ff8000"/>
<path d="M1486.3,1929.21 L1495.1,1945.01 H1477.5 Z" stroke="#ff8000"/>
<path d="M1564.8,1990.59 L1573.6,2006.38 H1556 Z" stroke="#ff8000"/>
<path d="M1643.3,2040.94 L1652.1,2056.74 H1634.5 Z" stroke="#ff8000"/>
<path d="M1721.8,2127.3 L1730.6,2143.1 H1713 Z" stroke="#ff8000"/>
<path d="M1172.3,1732.39 L1174.8,1737.28 L1180.38,1738.06 L1176.34,1741.86 L1177.3,1747.23 L1172.3,1744.69 L1167.3,1747.23 L1168.26,1741.86 L1164.22,1738.06 L1169.8,1737.28 Z" stroke="#008000"/>
<path d="M1250.8,1812.75 L1253.3,1817.63 L1258.88,1818.41 L1254.84,1822.21 L1255.8,1827.58 L1250.8,1825.05 L1245.8,1827.58 L1246.76,1822.21 L1242.72,1818.41 L1248.3,1817.63 Z" stroke="#008000"/>
<path d="M1329.3,1841.21 L1331.8,1846.09 L1337.38,1846.87 L1333.34,1850.67 L1334.3,1856.04 L1329.3,1853.51 L1324.3,1856.04 L1325.26,1850.67 L1321.22,1846.87 L1326.8,1846.09 Z" stroke="#008000"/>
<path d="M1407.8,1874.27 L1410.3,1879.15 L1415.88,1879.93 L1411.84,1883.73 L1412.8,1889.1 L1407.8,1886.57 L1402.8,1889.1 L1403.76,1883.73 L1399.72,1879.93 L1405.3,1879.15 Z" stroke="#008000"/>
<path d="M1486.3,1945.55 L1488.8,1950.43 L1494.38,1951.22 L1490.34,1955.02 L1491.3,1960.38 L1486.3,1957.85 L1481.3,1960.38 L1482.26,1955.02 L1478.22,1951.22 L1483.8,1950.43 Z" stroke="#008000"/>
<path d="M1564.8,1993.54 L1567.3,1998.42 L1572.88,1999.21 L1568.84,2003.01 L1569.8,2008.37 L1564.8,2005.84 L1559.8,2008.37 L1560.76,2003.01 L1556.72,1999.21 L1562.3,1998.42 Z" stroke="#008000"/>
<path d="M1643.3,2049.06 L1645.8,2053.94 L1651.38,2054.73 L1647.34,2058.53 L1648.3,2063.89 L1643.3,2061.36 L1638.3,2063.89 L1639.26,2058.53 L1635.22,2054.73 L1640.8,2053.94 Z" stroke="#008000"/>
<path d="M1721.8,2134.16 L1724.3,2139.04 L1729.88,2139.82 L1725.84,2143.62 L1726.8,2148.99 L1721.8,2146.45 L1716.8,2148.99 L1717.76,2143.62 L1713.72,2139.82 L1719.3,2139.04 Z" stroke="#008000"/>
</g>
<g fill="none" stroke-width="3.5" stroke-linecap="round">
<line x1="1172.3" y1="1737.81" x2="1721.8" y2="2122.08" stroke="#ff0000" stroke-dasharray="15.78 15.58" stroke-dashoffset="-2"/>
<line x1="1172.3" y1="1734.11" x2="1721.8" y2="2120.58" stroke="#0000ff" stroke-dasharray="15.82 15.6"/>
<line x1="1172.3" y1="1741.29" x2="1721.8" y2="2116.85" stroke="#ff8000" stroke-dasharray="15.64 15.49"/>
<line x1="1172.3" y1="1742.35" x2="1721.8" y2="2123.43" stroke="#008000" stroke-dasharray="15.73 15.55"/>
</g>
<path d="M1094.8,1682.2 V2242.5" fill="none" stroke="#000" stroke-width="2.6"/>
<path d="M1093.5,2241.4 H1801.6" fill="none" stroke="#000" stroke-width="2.2"/>
<path d="M1172.3,2241.4 v-14.5 M1329.3,2241.4 v-14.5 M1486.3,2241.4 v-14.5 M1643.3,2241.4 v-14.5 M1800.3,2241.4 v-14.5 M1250.8,2241.4 v-7.2 M1407.8,2241.4 v-7.2 M1564.8,2241.4 v-7.2 M1721.8,2241.4 v-7.2" fill="none" stroke="#000" stroke-width="2.6"/>
<path d="M1094.8,2101.9 h14.5 M1094.8,1962.4 h14.5 M1094.8,1822.9 h14.5 M1094.8,1683.4 h14.5 M1094.8,2171.65 h7.2 M1094.8,2032.15 h7.2 M1094.8,1892.65 h7.2 M1094.8,1753.15 h7.2" fill="none" stroke="#000" stroke-width="2.2"/>
<g class="t">
<text transform="translate(1172.3 2284.9) scale(1 1.05)" font-size="37" text-anchor="middle">2.0</text>
<text transform="translate(1329.3 2284.9) scale(1 1.05)" font-size="37" text-anchor="middle">2.5</text>
<text transform="translate(1486.3 2284.9) scale(1 1.05)" font-size="37" text-anchor="middle">3.0</text>
<text transform="translate(1643.3 2284.9) scale(1 1.05)" font-size="37" text-anchor="middle">3.5</text>
<text transform="translate(1800.3 2284.9) scale(1 1.05)" font-size="37" text-anchor="middle">4.0</text>
<text transform="translate(1078 2252.4) scale(1 1.05)" font-size="37" text-anchor="end">1</text>
<text transform="translate(1078 2112.9) scale(1 1.05)" font-size="37" text-anchor="end">2</text>
<text transform="translate(1078 1973.4) scale(1 1.05)" font-size="37" text-anchor="end">3</text>
<text transform="translate(1078 1833.9) scale(1 1.05)" font-size="37" text-anchor="end">4</text>
<text transform="translate(1078 1694.4) scale(1 1.05)" font-size="37" text-anchor="end">5</text>
</g>
<text x="1411.5" y="2336.8" font-size="37">A<tspan font-size="25.16" dy="9.8" dx="0" letter-spacing="-1">dB</tspan><tspan dy="-9.8" dx="0">/20</tspan></text>
<text transform="translate(1036.7 2009) rotate(-90)" font-size="37.5">log<tspan font-size="26.25" dy="9.75">10</tspan><tspan dy="-9.75" font-style="italic">N</tspan></text>
<g fill="none" stroke-width="1.1" stroke-opacity="0.8">
<rect x="1614.4" y="1715.6" width="13.8" height="12.2" stroke="#ff0000"/>
<ellipse cx="1621.3" cy="1768" rx="7.2" ry="7" stroke="#0000ff"/>
<path d="M1621.3,1804.44 L1629.7,1820.04 H1612.9 Z" stroke="#ff8000"/>
<path d="M1621.3,1851.7 L1623.62,1856.52 L1628.81,1857.3 L1625.06,1861.05 L1625.94,1866.35 L1621.3,1863.85 L1616.66,1866.35 L1617.54,1861.05 L1613.79,1857.3 L1618.98,1856.52 Z" stroke="#008000"/>
</g>
<text transform="translate(1652.3 1725.2) scale(1 0.96)" font-size="31" textLength="110.3" lengthAdjust="spacingAndGlyphs">1# Probe</text>
<text transform="translate(1652.3 1772.1) scale(1 0.96)" font-size="31" textLength="110.3" lengthAdjust="spacingAndGlyphs">2# Probe</text>
<text transform="translate(1652.3 1815.4) scale(1 0.96)" font-size="31" textLength="110.3" lengthAdjust="spacingAndGlyphs">3# Probe</text>
<text transform="translate(1652.3 1862.6) scale(1 0.96)" font-size="31" textLength="110.3" lengthAdjust="spacingAndGlyphs">4# Probe</text>
<g fill="none" stroke-width="3.4" stroke-dasharray="16.6 18.7" stroke-linecap="round">
<line x1="1116.2" y1="2057.8" x2="1189.8" y2="2057.8" stroke="#ff0000" stroke-width="3.5"/>
<line x1="1116.2" y1="2101.7" x2="1189.8" y2="2101.7" stroke="#0000ff" stroke-width="3.5"/>
<line x1="1116.2" y1="2144.4" x2="1189.8" y2="2144.4" stroke="#ff8000" stroke-width="2.4"/>
<line x1="1116.2" y1="2188.3" x2="1189.8" y2="2188.3" stroke="#008000" stroke-width="3.2"/>
</g>
<text x="1197" y="2068.2" font-size="32" textLength="374" lengthAdjust="spacingAndGlyphs">y=-1.5741x+7.7616; R<tspan font-size="20.48" dy="-12.48">2</tspan><tspan dy="12.48">=0.98</tspan></text>
<text x="1197" y="2112.1" font-size="32" textLength="374" lengthAdjust="spacingAndGlyphs">y=-1.5805x+7.7925; R<tspan font-size="20.48" dy="-12.48">2</tspan><tspan dy="12.48">=0.97</tspan></text>
<text x="1197" y="2155.4" font-size="32" textLength="374" lengthAdjust="spacingAndGlyphs">y=-1.5384x+7.6607; R<tspan font-size="20.48" dy="-12.48">2</tspan><tspan dy="12.48">=0.98</tspan></text>
<text x="1197" y="2198.4" font-size="32" textLength="374" lengthAdjust="spacingAndGlyphs">y=-1.5567x+7.6914; R<tspan font-size="20.48" dy="-12.48">2</tspan><tspan dy="12.48">=0.98</tspan></text>
<text x="1189.2" y="2413.6" font-size="43.5" textLength="452" lengthAdjust="spacingAndGlyphs">(f) positioned after a peak</text>
</g>
</svg></body></html>
